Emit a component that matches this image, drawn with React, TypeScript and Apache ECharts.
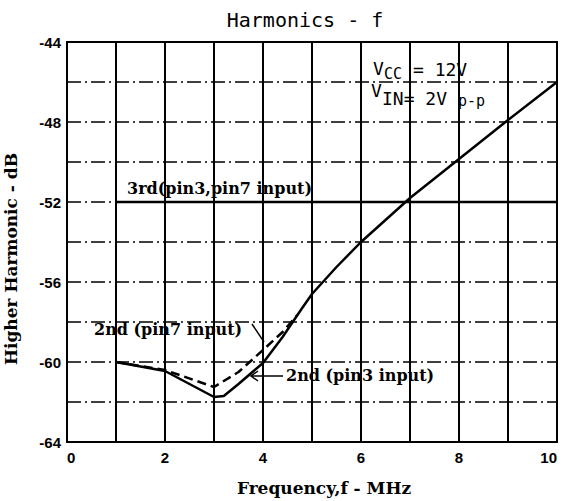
import React, { useEffect, useRef } from "react";
import * as echarts from "echarts";

// Axis ranges / ticks
const freqRange = [0, 10];
const levelRange = [-64, -44];
const xLabelValues = [0, 2, 4, 6, 8, 10];
const yLabelValues = [-64, -60, -56, -52, -48, -44];

// 3rd harmonic (pin3, pin7 input)
const thirdFreq = [1, 10];
const thirdLevel = [-52, -52];

// 2nd harmonic, pin3 input (solid)
const pin3Freq = [1, 2, 3, 3.2, 3.5, 4, 4.4, 4.8, 5, 5.5, 6, 7, 8, 9, 10];
const pin3Level = [-60, -60.45, -61.75, -61.7, -61.1, -60.05, -58.75, -57.3, -56.6, -55.25, -54.0, -51.8, -49.85, -47.9, -46.0];

// 2nd harmonic, pin7 input (dashed)
const pin7Freq = [1, 2, 3, 3.5, 4, 4.4, 4.7];
const pin7Level = [-60, -60.4, -61.25, -60.5, -59.4, -58.5, -57.65];

const zip = (xs: number[], ys: number[]) => xs.map((x, i) => [x, ys[i]]);

const MONO = "'DejaVu Sans Mono', monospace";
const SERIF = "'DejaVu Serif', serif";
const NARROW = "'Liberation Sans Narrow', 'Liberation Sans', sans-serif";

export default function App() {
  const ref = useRef<HTMLDivElement>(null);
  useEffect(() => {
    if (!ref.current) return;
    const chart = echarts.init(ref.current, undefined, { renderer: "svg" });
    chart.setOption({
      animation: false,
      backgroundColor: "#fff",
      grid: {
        left: 67,
        right: 5,
        top: 42,
        bottom: 59,
        show: true,
        borderColor: "#000",
        borderWidth: 2,
        backgroundColor: "transparent",
      },
      xAxis: {
        type: "value",
        min: freqRange[0],
        max: freqRange[1],
        interval: 1,
        axisLine: { show: false },
        axisTick: { show: false },
        axisLabel: {
          color: "#000",
          fontFamily: NARROW,
          fontWeight: "bold",
          fontSize: 15,
          margin: 8,
          alignMinLabel: "left",
          alignMaxLabel: "right",
          formatter: (v: number) => (xLabelValues.includes(v) ? String(v) : ""),
        },
        splitLine: { show: true, lineStyle: { color: "#000", width: 2, type: "solid" } },
      },
      yAxis: {
        type: "value",
        min: levelRange[0],
        max: levelRange[1],
        interval: 2,
        axisLine: { show: false },
        axisTick: { show: false },
        axisLabel: {
          color: "#000",
          fontFamily: NARROW,
          fontWeight: "bold",
          fontSize: 15,
          margin: 6,
          formatter: (v: number) => (yLabelValues.includes(v) ? String(v) : ""),
        },
        splitLine: { show: true, lineStyle: { color: "#000", width: 1.5, type: [14, 4, 2, 4] } },
      },
      series: [
        {
          name: "3rd(pin3,pin7 input)",
          type: "line",
          data: zip(thirdFreq, thirdLevel),
          showSymbol: false,
          lineStyle: { color: "#000", width: 2.5 },
        },
        {
          name: "2nd (pin3 input)",
          type: "line",
          data: zip(pin3Freq, pin3Level),
          showSymbol: false,
          lineStyle: { color: "#000", width: 2.5 },
        },
        {
          name: "2nd (pin7 input)",
          type: "line",
          data: zip(pin7Freq, pin7Level),
          showSymbol: false,
          lineStyle: { color: "#000", width: 2.5, type: [9, 5] },
        },
      ],
      graphic: [
        {
          type: "text",
          x: 305,
          y: 20,
          style: { text: "Harmonics - f", font: `20px ${MONO}`, fill: "#000", align: "center", verticalAlign: "middle" },
        },
        {
          type: "text",
          x: 11,
          y: 259,
          rotation: Math.PI / 2,
          style: { text: "Higher Harmonic - dB", font: `bold 17px ${SERIF}`, fill: "#000", align: "center", verticalAlign: "middle" },
        },
        {
          type: "text",
          x: 324,
          y: 488,
          style: { text: "Frequency,f - MHz", font: `bold 17px ${SERIF}`, fill: "#000", align: "center", verticalAlign: "middle" },
        },
        {
          type: "text",
          x: 127,
          y: 188,
          style: { text: "3rd(pin3,pin7 input)", font: `bold 16px ${SERIF}`, fill: "#000", align: "left", verticalAlign: "middle" },
        },
        {
          type: "text",
          x: 94,
          y: 329,
          style: { text: "2nd (pin7 input)", font: `bold 16px ${SERIF}`, fill: "#000", align: "left", verticalAlign: "middle" },
        },
        {
          type: "text",
          x: 286,
          y: 375,
          style: { text: "2nd (pin3 input)", font: `bold 16px ${SERIF}`, fill: "#000", align: "left", verticalAlign: "middle" },
        },
        { type: "line", shape: { x1: 252, y1: 324, x2: 264, y2: 342 }, style: { stroke: "#000", lineWidth: 1.5 } },
        { type: "line", shape: { x1: 251, y1: 376, x2: 283, y2: 376 }, style: { stroke: "#000", lineWidth: 1.5 } },
        { type: "polyline", shape: { points: [[258, 371], [251, 376], [258, 381]] }, style: { stroke: "#000", lineWidth: 1.5, fill: "none" } },
        // Vcc annotation
        { type: "text", x: 373, y: 68, style: { text: "V", font: `18px ${MONO}`, fill: "#000", verticalAlign: "middle" } },
        { type: "text", x: 384, y: 74, style: { text: "CC", font: `15px ${MONO}`, fill: "#000", verticalAlign: "middle" } },
        { type: "text", x: 413, y: 69, style: { text: "= 12V", font: `18px ${MONO}`, fill: "#000", verticalAlign: "middle" } },
        // Vin annotation
        { type: "text", x: 371, y: 90, style: { text: "V", font: `18px ${MONO}`, fill: "#000", verticalAlign: "middle" } },
        { type: "text", x: 382, y: 98, style: { text: "IN= 2V", font: `18px ${MONO}`, fill: "#000", verticalAlign: "middle" } },
        { type: "text", x: 458, y: 101, style: { text: "p-p", font: `15px ${MONO}`, fill: "#000", verticalAlign: "middle" } },
      ],
    });
    return () => chart.dispose();
  }, []);
  return <div ref={ref} style={{ width: 562, height: 501, position: "absolute", left: 0, top: 0 }} />;
}
